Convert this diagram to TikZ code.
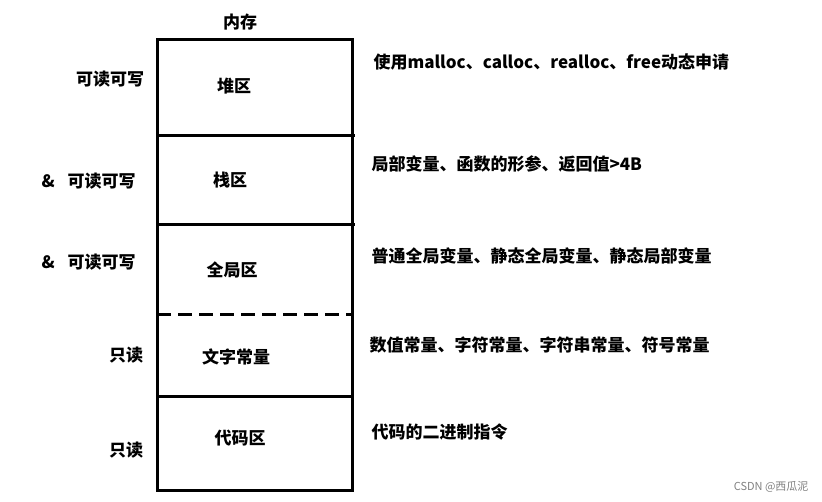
\documentclass[tikz,border=0pt]{standalone}
\usepackage{fontspec}
\setmainfont{Noto Sans CJK SC}
\tikzset{lab/.style={font=\fontsize{17}{19}\selectfont\bfseries},
  desc/.style={lab,anchor=west},
  frame/.style={line width=3pt}}
\begin{document}
\begin{tikzpicture}[x=1pt,y=-1pt]
\useasboundingbox (0,0) rectangle (822,502);
\draw[frame] (157,40) rectangle (352,490);
\draw[frame] (157,136) -- (355,136);
\draw[frame] (157,225) -- (355,225);
\draw[frame,dash pattern=on 14pt off 7pt] (157,315) -- (352,315);
\draw[frame] (157,397) -- (352,397);
\node[lab] (t) at (240,22) {内存};
\node[lab] (a) at (234,86) {堆区};
\node[lab] (b) at (230,180) {栈区};
\node[lab] (c) at (232,270) {全局区};
\node[lab] (d) at (236,357) {文字常量};
\node[lab] (e) at (240,438) {代码区};
\node[lab] (la) at (110,79) {可读可写};
\node[lab,anchor=west] (lb) at (38,181) {\&\hspace{13pt}可读可写};
\node[lab,anchor=west] (lc) at (38,262) {\&\hspace{13pt}可读可写};
\node[lab] (ld) at (126,355) {只读};
\node[lab] (le) at (126,450) {只读};
\node[desc] (da) at (370,62) {使用malloc、calloc、realloc、free动态申请};
\node[desc] (db) at (368,164) {局部变量、函数的形参、返回值>4B};
\node[desc] (dc) at (368,256) {普通全局变量、静态全局变量、静态局部变量};
\node[desc] (dd) at (366,345) {数值常量、字符常量、字符串常量、符号常量};
\node[desc] (de) at (368,432) {代码的二进制指令};
\node[font=\fontsize{11}{12}\selectfont,text=gray,anchor=east] (w) at (812,487) {CSDN @西瓜泥};
\end{tikzpicture}
\end{document}
